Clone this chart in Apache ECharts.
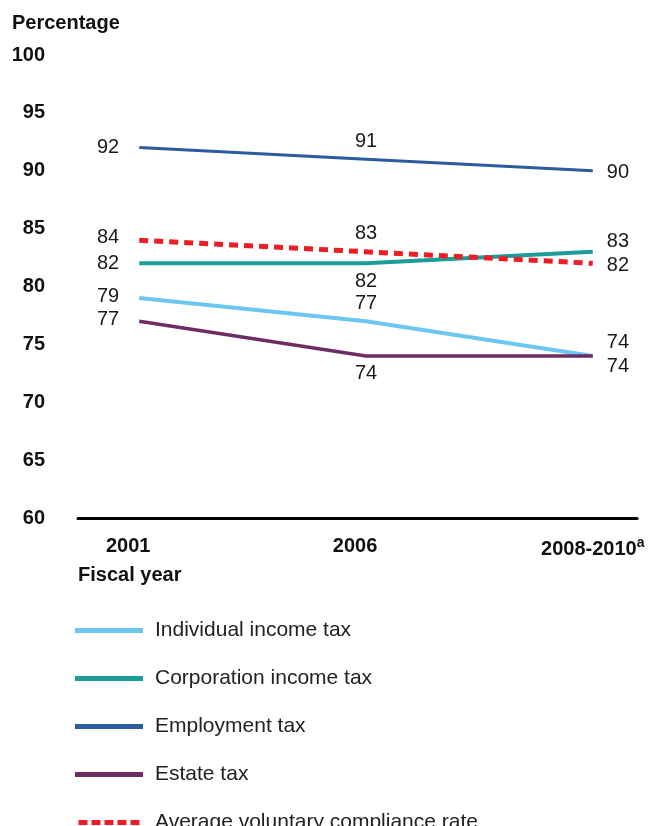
<!DOCTYPE html>
<html>
<head>
<meta charset="utf-8">
<script src="https://cdn.jsdelivr.net/npm/echarts@6/dist/echarts.min.js"></script>
<style>
  html, body { margin: 0; padding: 0; background: #fff; }
  #chart { width: 650px; height: 826px; }
</style>
</head>
<body>
<div id="chart"></div>
<script>
// Voluntary compliance rates by tax type, fiscal years
const categories = ['2001', '2006', '2008-2010'];
const individualIncomeTax = [79, 77, 74];
const corporationIncomeTax = [82, 82, 83];
const employmentTax = [92, 91, 90];
const estateTax = [77, 74, 74];
const averageCompliance = [84, 83, 82];
const yTicks = [60, 65, 70, 75, 80, 85, 90, 95, 100];

const FONT = 'Liberation Sans, Arial, sans-serif';

// label placement per point: [position, dx, dy]
function points(values, places) {
  return values.map((v, i) => {
    const p = places[i];
    return {
      value: [i, v],
      label: { position: p[0], offset: [p[1], p[2]] }
    };
  });
}

function lineSeries(name, values, color, width, places, dashed) {
  return {
    name: name,
    type: 'line',
    data: points(values, places),
    symbol: 'circle',
    symbolSize: 0,
    itemStyle: { color: color },
    lineStyle: {
      color: color,
      width: width,
      type: dashed ? [9, 6] : 'solid'
    },
    label: {
      show: true,
      color: '#1a1a1a',
      fontFamily: FONT,
      fontSize: 20,
      distance: 8
    },
    emphasis: { disabled: true },
    animation: false
  };
}

// legend keys: solid bar, or a row of short dashes for the average
const solidIcon = 'rect';
const dashIcon = 'path://M0,0h9v5h-9z M13,0h9v5h-9z M26,0h9v5h-9z M39,0h9v5h-9z M52,0h9v5h-9z';

const legendNames = ['Individual income tax', 'Corporation income tax', 'Employment tax', 'Estate tax', 'Average voluntary compliance rate'];

const chart = echarts.init(document.getElementById('chart'));
chart.setOption({
  backgroundColor: '#fff',
  title: [
    {
      text: 'Percentage', left: 7, top: 8,
      textStyle: { fontFamily: FONT, fontSize: 20, fontWeight: 'bold', color: '#111' }
    },
    {
      text: 'Fiscal year', left: 73, top: 560,
      textStyle: { fontFamily: FONT, fontSize: 20, fontWeight: 'bold', color: '#111' }
    }
  ],
  grid: { left: 78, right: 13, top: 55, bottom: 308, containLabel: false },
  xAxis: {
    type: 'value',
    min: -0.27,
    max: 2.195,
    axisLine: { show: true, onZero: false, lineStyle: { color: '#000', width: 3 } },
    axisTick: { show: false },
    splitLine: { show: false },
    axisLabel: {
      customValues: [0, 1, 2],
      margin: 18,
      fontFamily: FONT,
      fontSize: 20,
      fontWeight: 'bold',
      color: '#111',
      formatter: (v) => {
        const c = categories[Math.round(v)];
        return c === '2008-2010' ? '{m|' + c + '}{sup|a}' : '{s|' + c + '}';
      },
      rich: {
        m: { fontFamily: FONT, fontSize: 20, fontWeight: 'bold', color: '#111' },
        s: { fontFamily: FONT, fontSize: 20, fontWeight: 'bold', color: '#111', padding: [0, 22, 0, 0] },
        sup: { fontFamily: FONT, fontSize: 14, color: '#111', padding: [0, 0, 12, 0] }
      }
    }
  },
  yAxis: {
    type: 'value',
    min: yTicks[0],
    max: yTicks[yTicks.length - 1],
    interval: 5,
    axisLine: { show: false },
    axisTick: { show: false },
    splitLine: { show: false },
    axisLabel: {
      margin: 33,
      fontFamily: FONT,
      fontSize: 20,
      fontWeight: 'bold',
      color: '#111'
    }
  },
  legend: {
    orient: 'vertical',
    left: 75,
    top: 620,
    height: 300,
    padding: 0,
    itemWidth: 68,
    itemHeight: 5,
    itemGap: 27,
    selectedMode: false,
    data: legendNames.map((n, i) => ({ name: n, icon: i === 4 ? dashIcon : solidIcon })),
    textStyle: { fontFamily: FONT, fontSize: 21, color: '#222', padding: [0, 0, 0, 7] }
  },
  series: [
    lineSeries('Individual income tax', individualIncomeTax, '#6cc6ef', 4,
      [['left', -12, -2], ['top', 0, 0], ['right', 6, -13]]),
    lineSeries('Estate tax', estateTax, '#6d2c63', 3.5,
      [['left', -12, -2], ['bottom', 0, 0], ['right', 6, 11]]),
    lineSeries('Employment tax', employmentTax, '#2c5c9f', 3,
      [['left', -12, 0], ['top', 0, 0], ['right', 6, 2]]),
    lineSeries('Corporation income tax', corporationIncomeTax, '#1b9e9a', 4,
      [['left', -12, 0], ['bottom', 0, 0], ['right', 6, -10]]),
    lineSeries('Average voluntary compliance rate', averageCompliance, '#ee1c25', 5,
      [['left', -12, -3], ['top', 0, 0], ['right', 6, 2]], true)
  ]
});
</script>
</body>
</html>
